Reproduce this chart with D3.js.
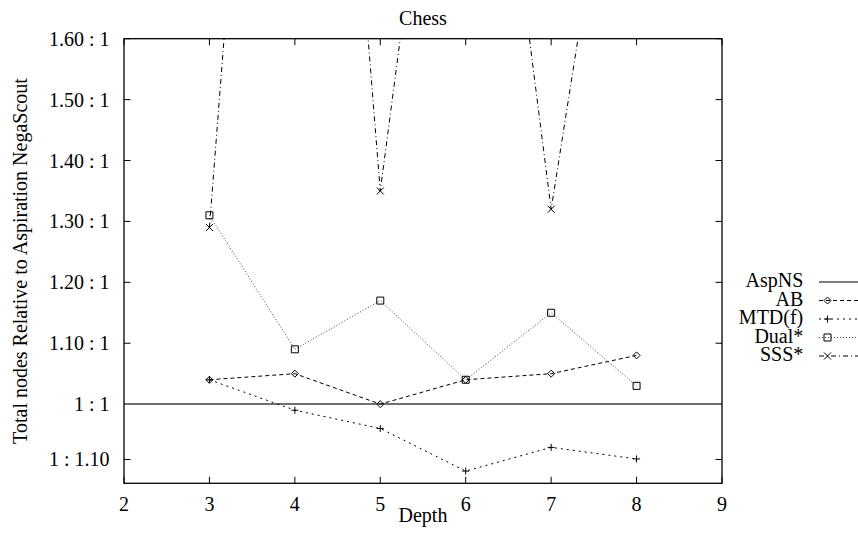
<!DOCTYPE html>
<html><head><meta charset="utf-8">
<script src="https://cdn.jsdelivr.net/npm/d3@7"></script>
<style>body{margin:0;background:#fff}svg{display:block}text{font-family:"Liberation Serif","Times New Roman",serif;fill:#000}</style>
</head><body>
<svg id="c" width="858" height="535"></svg>
<script>
const depths = [3, 4, 5, 6, 7, 8];
const aspNS  = [1, 1, 1, 1, 1, 1];
const ab     = [1.04, 1.05, 1.00, 1.04, 1.05, 1.08];
const mtdf   = [1.04, 0.99, 0.96, 0.89, 0.929, 0.91];
const dual   = [1.31, 1.09, 1.17, 1.04, 1.15, 1.03];
const sss    = [1.29, 3.10, 1.35, 2.42, 1.32, 2.21];
const xTicks = [2, 3, 4, 5, 6, 7, 8, 9];
const yTicks = [1.6, 1.5, 1.4, 1.3, 1.2, 1.1, 1, 1/1.1];
const yTickLabels = ["1.60 : 1", "1.50 : 1", "1.40 : 1", "1.30 : 1", "1.20 : 1", "1.10 : 1", "1 : 1", "1 : 1.10"];
const seriesNames = ["AspNS", "AB", "MTD(f)", "Dual*", "SSS*"];

const svg = d3.select("#c");
const L = 124, R = 722, T = 38.7, B = 483.3;
const x = d3.scaleLinear().domain([2, 9]).range([L, R]);
const y = d3.scaleLinear().domain([0.87, 1.6]).range([B, T]);
const FS = 20;

svg.append("defs").append("clipPath").attr("id", "clip")
  .append("rect").attr("x", L).attr("y", T).attr("width", R - L).attr("height", B - T);

// ticks (inward, mirrored)
const tk = svg.append("g").attr("stroke", "#000").attr("stroke-width", 1);
xTicks.forEach(v => {
  tk.append("line").attr("x1", x(v)).attr("x2", x(v)).attr("y1", B).attr("y2", B - 6.5);
  tk.append("line").attr("x1", x(v)).attr("x2", x(v)).attr("y1", T).attr("y2", T + 6.5);
});
yTicks.forEach(v => {
  tk.append("line").attr("y1", y(v)).attr("y2", y(v)).attr("x1", L).attr("x2", L + 6.5);
  tk.append("line").attr("y1", y(v)).attr("y2", y(v)).attr("x1", R).attr("x2", R - 6.5);
});

// tick labels
svg.append("g").selectAll("text").data(xTicks).join("text")
  .attr("x", d => x(d)).attr("y", 511).attr("text-anchor", "middle")
  .attr("font-size", FS).text(d => d);
svg.append("g").selectAll("text").data(yTicks).join("text")
  .attr("x", 109.5).attr("y", d => y(d) + 7).attr("text-anchor", "end")
  .attr("font-size", FS).text((d, i) => yTickLabels[i]);

// titles
svg.append("text").attr("x", (L + R) / 2).attr("y", 25).attr("text-anchor", "middle").attr("font-size", FS).text("Chess");
svg.append("text").attr("x", (L + R) / 2).attr("y", 522).attr("text-anchor", "middle").attr("font-size", FS).text("Depth");
svg.append("text").attr("transform", `translate(27,${(T + B) / 2}) rotate(-90)`)
  .attr("text-anchor", "middle").attr("font-size", FS).text("Total nodes Relative to Aspiration NegaScout");

// AspNS reference line at 1:1 across full width
const plot = svg.append("g").attr("clip-path", "url(#clip)");
plot.append("line").attr("x1", L).attr("x2", R).attr("y1", y(aspNS[0])).attr("y2", y(aspNS[0]))
  .attr("stroke", "#707070").attr("stroke-width", 2);

const line = d3.line().x((d, i) => x(depths[i])).y(d => y(d));
const styles = [
  {data: ab,   dash: "4,3",     color: "#000", mark: "diamond"},
  {data: mtdf, dash: "2,4",     color: "#000", mark: "plus"},
  {data: dual, dash: "1,2",     color: "#444", mark: "square"},
  {data: sss,  dash: "5,3,1,3", color: "#000", mark: "cross"}
];

function marker(g, kind, cx, cy) {
  const s = 3.5;
  const p = g.append("path").attr("fill", "none").attr("stroke", "#000").attr("stroke-width", 1);
  if (kind === "diamond") p.attr("d", `M${cx},${cy - s}L${cx + s},${cy}L${cx},${cy + s}L${cx - s},${cy}Z`);
  else if (kind === "plus") p.attr("d", `M${cx - s},${cy}H${cx + s}M${cx},${cy - s}V${cy + s}`);
  else if (kind === "square") p.attr("d", `M${cx - s},${cy - s}h${2 * s}v${2 * s}h${-2 * s}Z`);
  else if (kind === "cross") p.attr("d", `M${cx - s},${cy - s}L${cx + s},${cy + s}M${cx + s},${cy - s}L${cx - s},${cy + s}`);
}

styles.forEach(st => {
  plot.append("path").datum(st.data).attr("d", line).attr("fill", "none")
    .attr("stroke", st.color).attr("stroke-width", 1).attr("stroke-dasharray", st.dash);
  st.data.forEach((v, i) => {
    if (v <= 1.6 && v >= 0.87) marker(plot, st.mark, x(depths[i]), y(v));
  });
});

// frame
svg.append("rect").attr("x", L).attr("y", T).attr("width", R - L).attr("height", B - T)
  .attr("fill", "none").attr("stroke", "#000").attr("stroke-width", 1.3);

// legend
const lg = svg.append("g");
const legendY = [287, 305.5, 324, 342.5, 361];
seriesNames.forEach((n, i) => {
  const by = legendY[i];
  lg.append("text").attr("x", 803.3).attr("y", by).attr("text-anchor", "end").attr("font-size", FS).text(n);
  const ly = by - 5;
  if (i === 0) {
    lg.append("line").attr("x1", 819).attr("x2", 858).attr("y1", ly).attr("y2", ly).attr("stroke", "#000");
  } else {
    const st = styles[i - 1];
    lg.append("line").attr("x1", 819).attr("x2", 858).attr("y1", ly).attr("y2", ly)
      .attr("stroke", st.color).attr("stroke-dasharray", st.dash);
    marker(lg, st.mark, 827.5, ly);
  }
});
</script>
</body></html>
